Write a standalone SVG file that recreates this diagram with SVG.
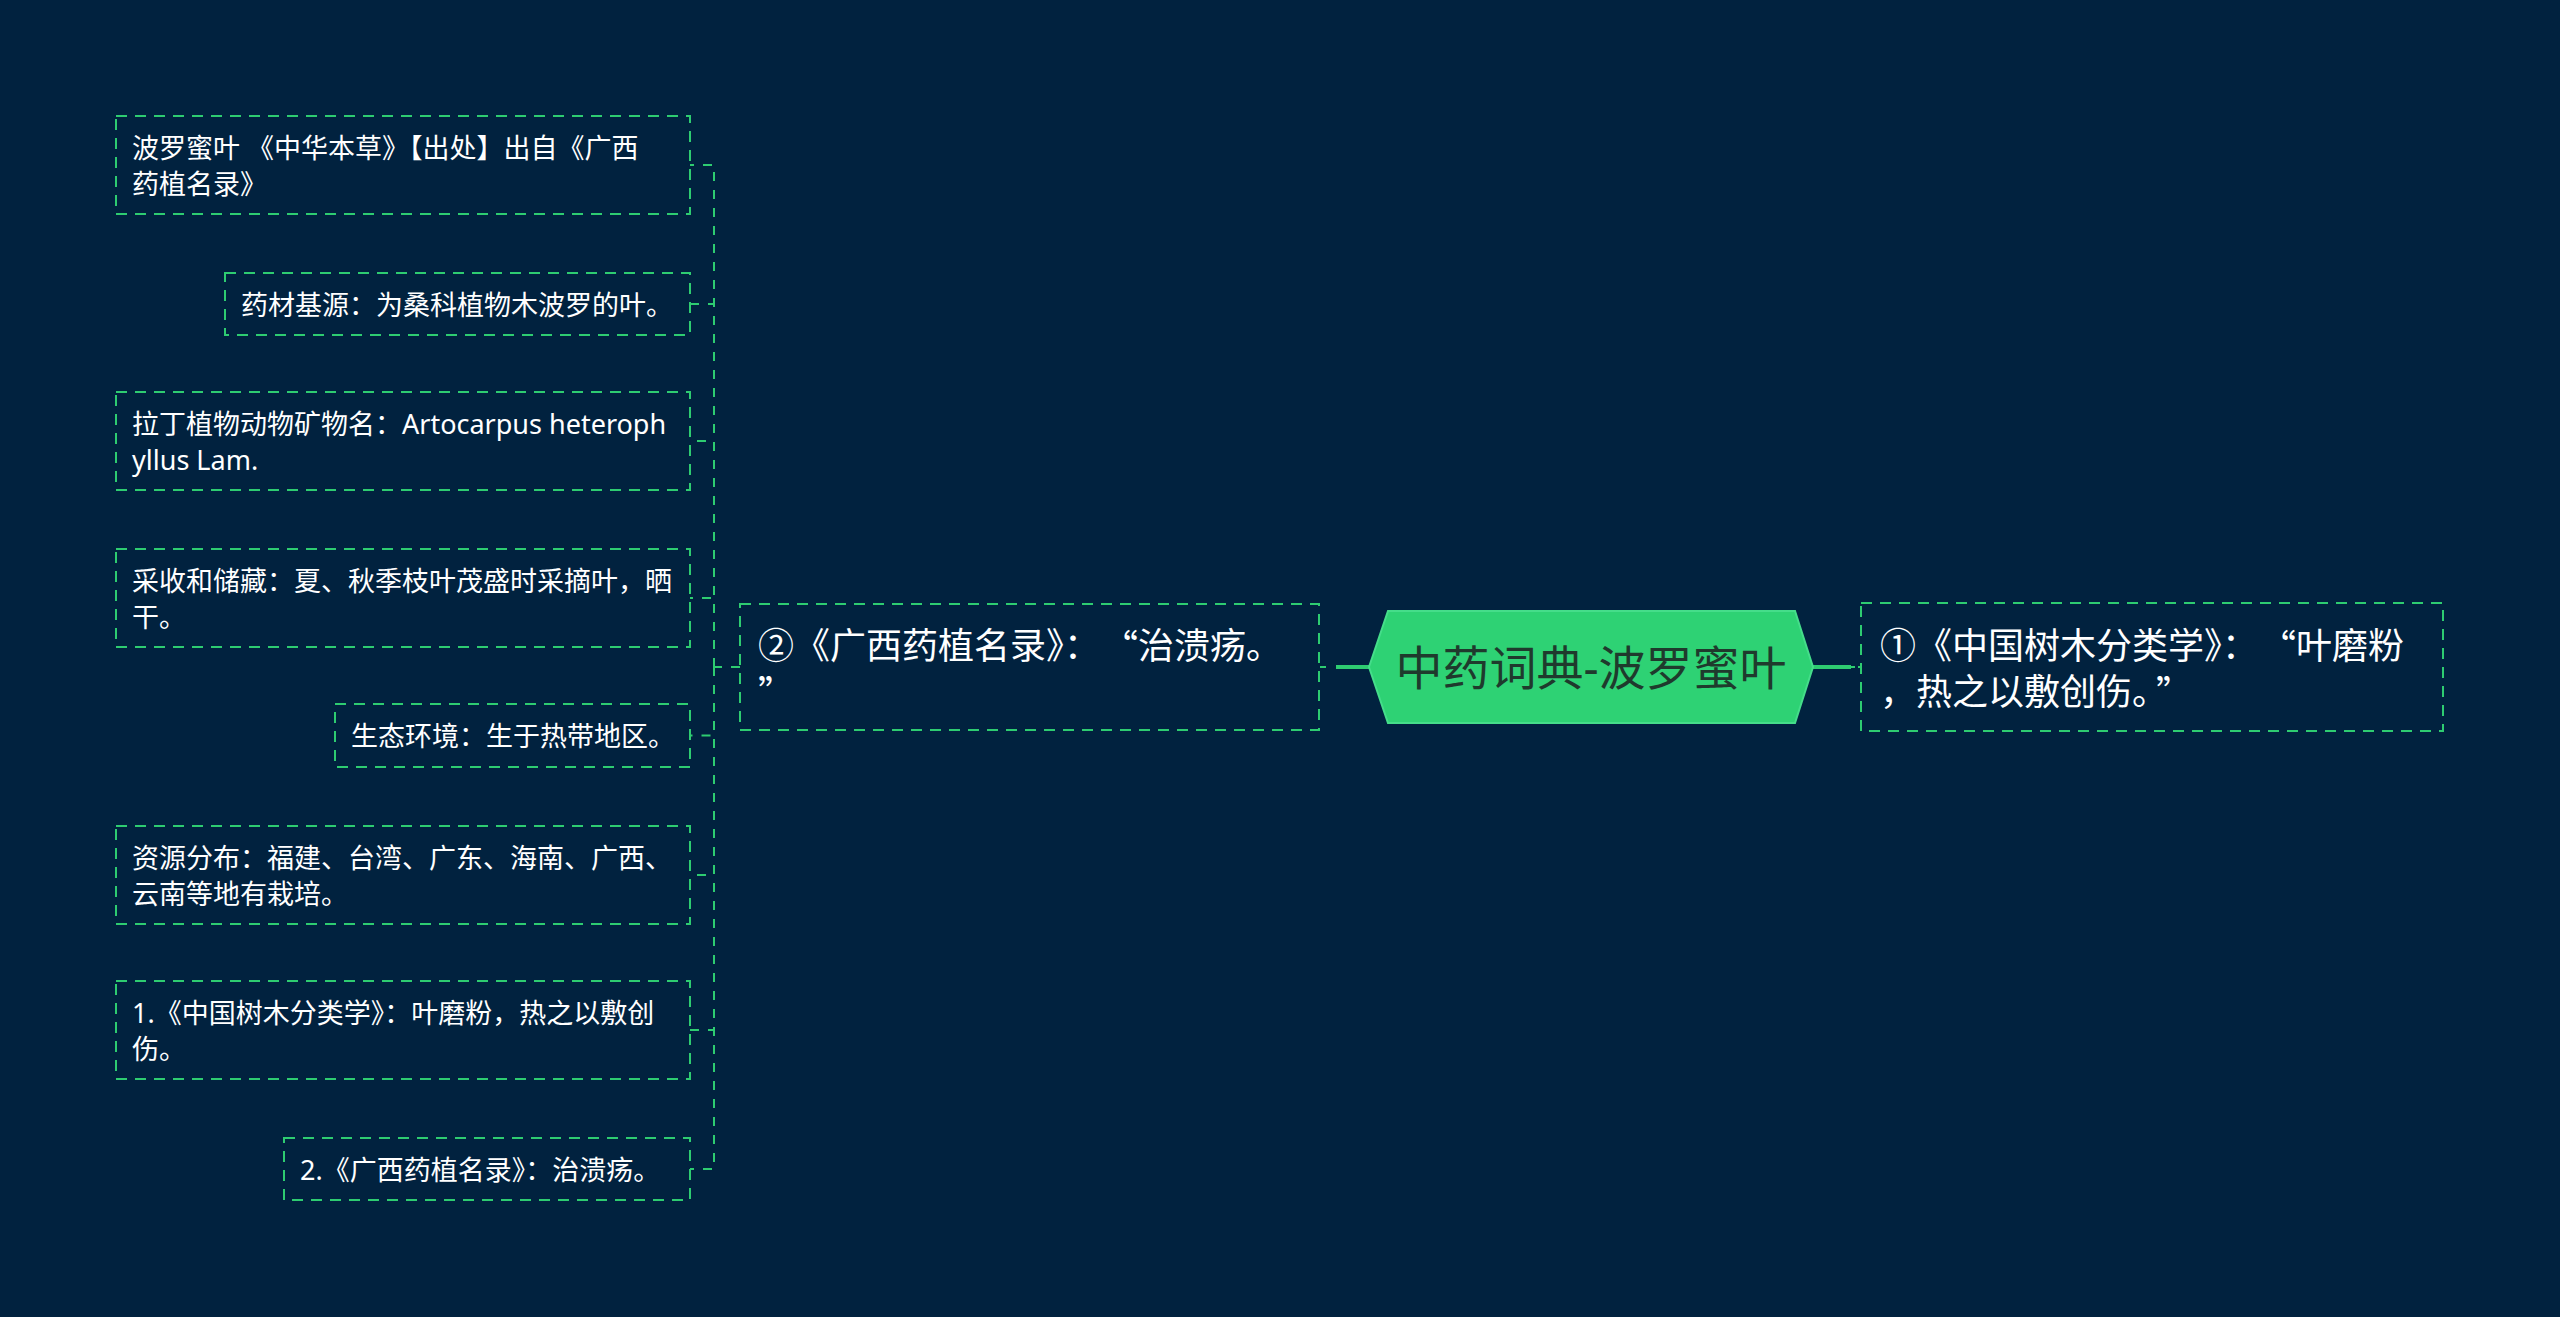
<svg xmlns="http://www.w3.org/2000/svg" width="2560" height="1317" viewBox="0 0 2560 1317">
<style>
.bg{fill:#01223f}
.box{fill:none;stroke:#2ecc71;stroke-width:2;stroke-dasharray:11 8}
.con{fill:none;stroke:#2ecc71;stroke-width:2;stroke-dasharray:9 9}
.main{fill:none;stroke:#2ecc71;stroke-width:4}
.t{font-family:"Noto Sans","Noto Sans CJK SC",sans-serif;fill:#ffffff;dominant-baseline:central}
.s{font-size:27px}
.m{font-size:36px}
.q{font-family:"Noto Sans CJK SC",sans-serif}
.hex{fill:#2ed274;stroke:#45dd8a;stroke-width:2}
.ct{font-family:"Noto Sans","Noto Sans CJK SC",sans-serif;font-size:47px;fill:#1f3a2d;dominant-baseline:central;text-anchor:middle}
</style>
<rect class="bg" x="0" y="0" width="2560" height="1317"/>
<g id="connectors">
<path class="con" d="M740,667 H714"/>
<path class="con" d="M714,667 V165 H690"/>
<path class="con" d="M714,667 V304 H690"/>
<path class="con" d="M714,667 V441 H690"/>
<path class="con" d="M714,667 V598 H690"/>
<path class="con" d="M714,667 V735.5 H690"/>
<path class="con" d="M714,667 V875 H690"/>
<path class="con" d="M714,667 V1030 H690"/>
<path class="con" d="M714,667 V1169 H690"/>
<path class="main" d="M1336,667 H1372"/>
<path class="con" d="M1320,667 H1336" style="stroke-dasharray:6 10"/>
<path class="main" d="M1811,667 H1851"/>
<path class="con" d="M1851,667 H1861" style="stroke-dasharray:4 3"/>
</g>
<g id="root">
<polygon class="hex" points="1369,667 1388,611 1795,611 1813,667 1795,723 1388,723"/>
<text class="ct" x="1591" y="667">中药词典-波罗蜜叶</text>
</g>
<g id="n-right">
<rect class="box" x="1861" y="603" width="582" height="128"/>
<text class="t m" x="1880" y="645">①《中国树木分类学》：<tspan class="q" dx="20">“</tspan>叶磨粉</text>
<text class="t m" x="1880" y="691">，热之以敷创伤。<tspan class="q" dx="6">”</tspan></text>
</g>
<g id="n-left">
<rect class="box" x="740" y="604" width="579" height="126"/>
<text class="t m" x="758" y="645">②《广西药植名录》：<tspan class="q" dx="20">“</tspan>治溃疡。</text>
<text class="t m" x="758" y="691"><tspan class="q">”</tspan></text>
</g>
<g id="c1">
<rect class="box" x="116" y="116" width="574" height="98"/>
<text class="t s" x="132" y="147">波罗蜜叶 《中华本草》【出处】出自《广西</text>
<text class="t s" x="132" y="183">药植名录》</text>
</g>
<g id="c2">
<rect class="box" x="225" y="273" width="465" height="62"/>
<text class="t s" x="241" y="304">药材基源：为桑科植物木波罗的叶。</text>
</g>
<g id="c3">
<rect class="box" x="116" y="392" width="574" height="98"/>
<text class="t s" x="132" y="423">拉丁植物动物矿物名：Artocarpus heteroph</text>
<text class="t s" x="132" y="459">yllus Lam.</text>
</g>
<g id="c4">
<rect class="box" x="116" y="549" width="574" height="98"/>
<text class="t s" x="132" y="580">采收和储藏：夏、秋季枝叶茂盛时采摘叶，晒</text>
<text class="t s" x="132" y="616">干。</text>
</g>
<g id="c5">
<rect class="box" x="335" y="704" width="355" height="63"/>
<text class="t s" x="351" y="735.5">生态环境：生于热带地区。</text>
</g>
<g id="c6">
<rect class="box" x="116" y="826" width="574" height="98"/>
<text class="t s" x="132" y="857">资源分布：福建、台湾、广东、海南、广西、</text>
<text class="t s" x="132" y="893">云南等地有栽培。</text>
</g>
<g id="c7">
<rect class="box" x="116" y="981" width="574" height="98"/>
<text class="t s" x="132" y="1012">1.《中国树木分类学》：叶磨粉，热之以敷创</text>
<text class="t s" x="132" y="1048">伤。</text>
</g>
<g id="c8">
<rect class="box" x="284" y="1138" width="406" height="62"/>
<text class="t s" x="300" y="1169">2.《广西药植名录》：治溃疡。</text>
</g>
</svg>
